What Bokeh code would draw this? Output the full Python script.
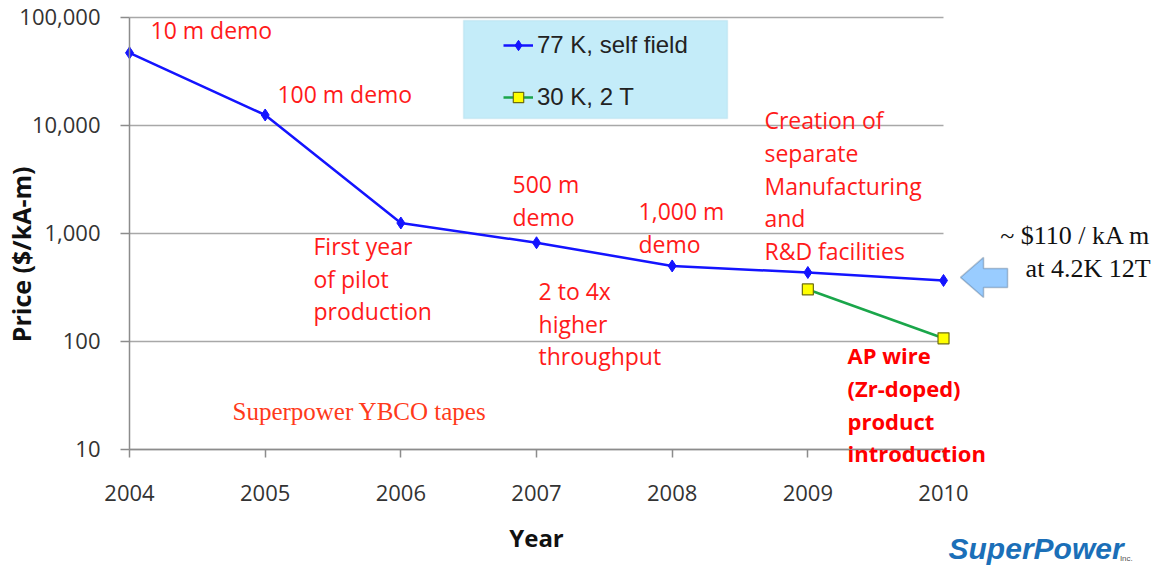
import math
from bokeh.plotting import figure
from bokeh.models import (FixedTicker, NumeralTickFormatter, Label, Legend, LegendItem,
                          BoxAnnotation, PolyAnnotation, Range1d)
from bokeh.embed import file_html
from bokeh.resources import INLINE

# ---------------- data ----------------
years = [2004, 2005, 2006, 2007, 2008, 2009, 2010]
price_77k_self_field = [47000, 12500, 1250, 820, 500, 435, 367]
years_30k = [2009, 2010]
price_30k_2t = [303, 107]
y_ticks = [10, 100, 1000, 10000, 100000]
series_names = ["77 K, self field", "30 K, 2 T"]

y_title = "Price ($/kA-m)"
x_title = "Year"
note_10m = ["10 m demo"]
note_100m = ["100 m demo"]
note_pilot = ["First year", "of pilot", "production"]
note_500m = ["500 m", "demo"]
note_throughput = ["2 to 4x", "higher", "throughput"]
note_1000m = ["1,000 m", "demo"]
note_facilities = ["Creation of", "separate", "Manufacturing", "and", "R&D facilities"]
note_apwire = ["AP wire", "(Zr-doped)", "product", "introduction"]
note_tapes = "Superpower YBCO tapes"
note_cost = ["~ $110 / kA m", "at 4.2K 12T"]

# ---------------- figure ----------------
# The frame spans the whole page so that side notes are not clipped; the axes
# are pinned to 2004 / 10 and limited to 2004-2010 and 10-100,000.
p = figure(width=1159, height=567, y_axis_type="log",
           x_range=Range1d(2003.049, 2011.592), y_range=Range1d(10 ** -0.093, 10 ** 5.157),
           output_backend="svg", toolbar_location=None,
           min_border_left=0, min_border_right=0,
           min_border_top=0, min_border_bottom=0)
p.outline_line_color = None
p.background_fill_color = "white"
p.border_fill_color = "white"

p.xgrid.grid_line_color = None
p.ygrid.grid_line_color = "#a8a8a8"
p.ygrid.grid_line_width = 1.5
p.ygrid.cross_bounds = (2004, 2010)

tick_font = "Open Sans"
p.xaxis.ticker = FixedTicker(ticks=years)
p.yaxis.ticker = FixedTicker(ticks=y_ticks)
p.yaxis.formatter = NumeralTickFormatter(format="0,0")
for ax in (p.xaxis[0], p.yaxis[0]):
    ax.axis_line_color = "#8c8c8c"
    ax.axis_line_width = 1.5
    ax.major_tick_line_color = "#8c8c8c"
    ax.major_tick_line_width = 1.5
    ax.major_tick_in = 0
    ax.minor_tick_line_color = None
    ax.major_label_text_font = tick_font
    ax.major_label_text_font_size = "22px"
    ax.major_label_text_color = "#333333"
    ax.axis_label_text_font = tick_font
    ax.axis_label_text_font_size = "24px"
    ax.axis_label_text_font_style = "bold"
    ax.axis_label_text_color = "#111111"

p.xaxis.fixed_location = 10
p.xaxis.bounds = (2004, 2010)
p.xaxis.major_tick_out = 8
p.xaxis.major_label_standoff = 28
p.xaxis.axis_label = x_title
p.xaxis.axis_label_standoff = 16

p.yaxis.fixed_location = 2004
p.yaxis.bounds = (10, 100000)
p.yaxis.major_tick_out = 9
p.yaxis.major_label_standoff = 20

# y-axis title (placed as a rotated label to sit where the original has it)
p.add_layout(Label(x=2003.197, y=10 ** 2.806, text=y_title, angle=math.pi / 2,
                   text_font=tick_font, text_font_size="25px", text_font_style="bold",
                   text_color="#111111", text_align="center", text_baseline="middle"))

# legend background box
p.add_layout(BoxAnnotation(left=2006.462, right=2008.408, bottom=10**4.065, top=10**4.972,
                           fill_color="#c4ecf9", fill_alpha=1.0,
                           line_color="#a6d3e3", line_width=1.5))

# ---------------- series ----------------
l1 = p.line(years, price_77k_self_field, line_color="#1414ff", line_width=2.5)
s1 = p.scatter(years, price_77k_self_field, marker="diamond", size=12,
               fill_color="#1414ff", line_color="#1414ff")
l2 = p.line(years_30k, price_30k_2t, line_color="#1aa64a", line_width=2.5)
s2 = p.scatter(years_30k, price_30k_2t, marker="square", size=11,
               fill_color="#ffff00", line_color="#6e6e10", line_width=1.2)

legend = Legend(items=[LegendItem(label=series_names[0], renderers=[l1, s1]),
                       LegendItem(label=series_names[1], renderers=[l2, s2])],
                location=(503, 456), background_fill_alpha=0, border_line_color=None,
                padding=0, margin=0, spacing=24, glyph_width=30, glyph_height=26,
                label_height=26, label_standoff=4,
                label_text_font="Liberation Sans", label_text_font_size="24px",
                label_text_color="#222222")
p.add_layout(legend)

# ---------------- annotations ----------------
STEP = 0.301


def add_note(lines, x, top_log, size="23px", style="normal", color="#ff1a1a",
             font="Open Sans", align="left", step=STEP):
    for i, t in enumerate(lines):
        p.add_layout(Label(x=x, y=10 ** (top_log - i * step), text=t,
                           text_font=font, text_font_size=size,
                           text_font_style=style, text_color=color,
                           text_align=align, text_baseline="middle"))


add_note(note_10m, 2004.155, 4.880)
add_note(note_100m, 2005.09, 4.287)
add_note(note_pilot, 2005.356, 2.880)
add_note(note_500m, 2006.823, 3.454)
add_note(note_throughput, 2007.015, 2.463)
add_note(note_1000m, 2007.752, 3.204)
add_note(note_facilities, 2008.68, 4.046)
add_note(note_apwire, 2009.292, 1.870, size="22px", style="bold", color="#ff0000")
add_note([note_tapes], 2004.759, 1.352, size="25px", color="#ff3a1a",
         font="Liberation Serif")
add_note(note_cost, 2011.526, 2.981, size="26px", color="#111111",
         font="Liberation Serif", align="right", step=0.306)

# block arrow pointing at the 2010 value
ax_ = [2010.125, 2010.295, 2010.295, 2010.472, 2010.472, 2010.295, 2010.295]
ay_ = [2.593, 2.778, 2.676, 2.676, 2.500, 2.500, 2.407]
p.add_layout(PolyAnnotation(xs=ax_, ys=[10 ** v for v in ay_],
                            fill_color="#99ccff", fill_alpha=1.0,
                            line_color="#2c4464", line_width=1.5))

# logo text
p.add_layout(Label(x=2010.037, y=10 ** 0.083, text="SuperPower", text_font="Liberation Sans",
                   text_font_size="30px", text_font_style="bold italic",
                   text_color="#1b6fb8", text_baseline="middle"))
p.add_layout(Label(x=2011.30, y=10 ** -0.009, text="Inc.", text_font="Liberation Sans",
                   text_font_size="8px", text_color="#555555", text_baseline="middle"))

open("out.html", "w").write(file_html(p, INLINE))
